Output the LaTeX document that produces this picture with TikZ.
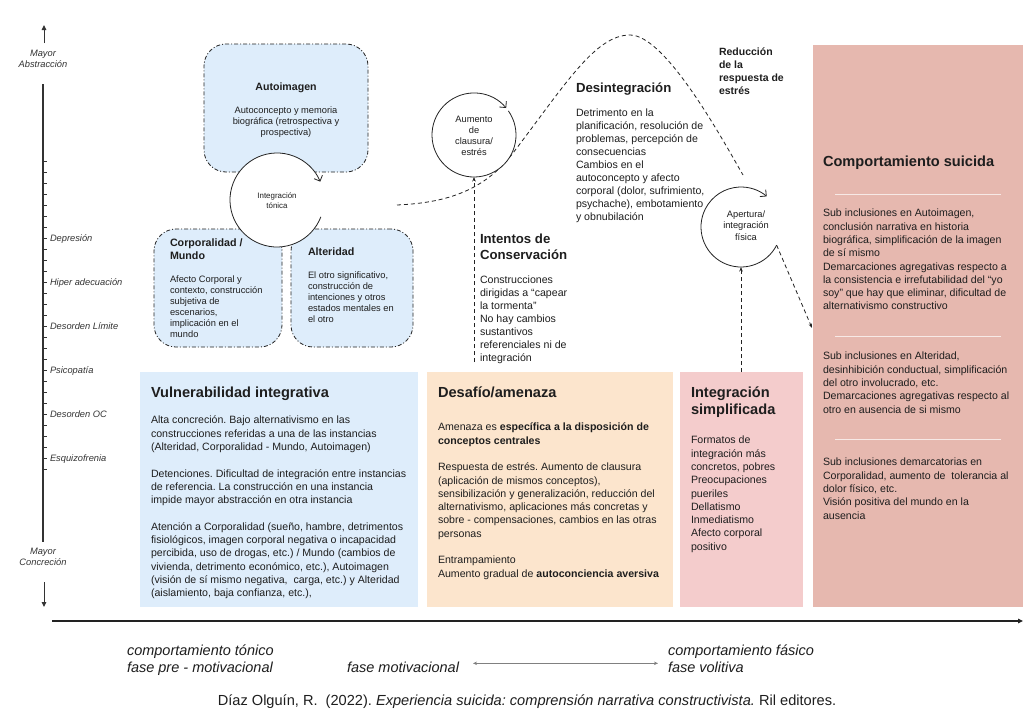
\documentclass[tikz,border=0pt]{standalone}
\usepackage{fontspec}
\setmainfont{Liberation Sans}
\usetikzlibrary{arrows.meta}
\definecolor{textc}{HTML}{1E1E1E}
\definecolor{bluef}{HTML}{DEEDFB}
\definecolor{orangef}{HTML}{FCE5CD}
\definecolor{pinkf}{HTML}{F4CCCC}
\definecolor{redf}{HTML}{E6B8AF}
\definecolor{sepc}{HTML}{F7E9E6}
\definecolor{linec}{HTML}{222222}
\definecolor{axisc}{HTML}{333333}
\definecolor{grayarrow}{HTML}{808080}
\newcommand\myfs[2]{\fontsize{#1}{#2}\selectfont}
\begin{document}
\frenchspacing
\begin{tikzpicture}[x=1pt,y=1pt,
  txt/.style={inner sep=0pt, outer sep=0pt, anchor=north west, align=left, text=textc},
  ctxt/.style={inner sep=0pt, outer sep=0pt, anchor=north, align=center, text=textc},
  axl/.style={txt, text=axisc, font=\myfs{9.3}{11}\itshape},
  caxl/.style={ctxt, text=axisc, font=\myfs{9.3}{11}\itshape},
  topbox/.style={draw=linec, line width=0.8pt, dash pattern=on 4pt off 2pt on 1pt off 2pt, fill=bluef, rounded corners=22pt, inner sep=0pt, outer sep=0pt},
  flatbox/.style={draw=none, inner sep=0pt, outer sep=0pt},
  ring/.style={circle, fill=white, draw=none, inner sep=0pt, outer sep=0pt},
  dashline/.style={draw=linec, line width=0.8pt, dash pattern=on 4pt off 3pt},
  smalltip/.style={-{Stealth[length=4.5pt,width=3.5pt]}},
  barb/.style={draw=linec, line width=0.8pt, -{Straight Barb[length=4.5pt,width=9pt]}},
  boxtitle/.style={txt, font=\myfs{14.6}{17}\bfseries},
  boxbody/.style={txt, font=\myfs{10.6}{13.3}},
  freebody/.style={txt, font=\myfs{10.6}{13}},
  freetitle/.style={txt, font=\myfs{13.2}{16}\bfseries},
  bottomlab/.style={txt, font=\myfs{14.5}{17}\itshape},
  sepline/.style={draw=sepc, line width=0.8pt}
]
\fill[white] (0,0) rectangle (1029,-723);
\useasboundingbox (0,0) rectangle (1029,-723);

% ---------- left vertical axis ----------
\draw[axisc, line width=1.1pt] (43,-84) -- (43,-542);
\foreach \k in {0,...,28} \draw[axisc, line width=0.8pt] (43,{-161-11*\k}) -- (47,{-161-11*\k});
\draw[axisc, line width=1pt, -{Triangle[length=5pt,width=4.5pt]}] (44,-43) -- (44,-25);
\draw[axisc, line width=1pt, -{Triangle[length=5pt,width=4.5pt]}] (44,-582) -- (44,-607);
\node[caxl] (mabs) at (43,-48.65) {\strut Mayor\\Abstracción};
\node[caxl] (mcon) at (43,-546.65) {\strut Mayor\\Concreción};
\node[axl] (l1) at (50,-233.65) {\strut Depresión};
\node[axl] (l2) at (50,-277.65) {\strut Hiper adecuación};
\node[axl] (l3) at (50,-321.65) {\strut Desorden Límite};
\node[axl] (l4) at (50,-365.65) {\strut Psicopatía};
\node[axl] (l5) at (50,-409.65) {\strut Desorden OC};
\node[axl] (l6) at (50,-453.65) {\strut Esquizofrenia};

% ---------- bottom axis ----------
\draw[linec, line width=1.1pt, -{Triangle[length=5pt,width=4.5pt]}] (52,-621) -- (1023,-621);

% ---------- top boxes ----------
\node[topbox, minimum width=164pt, minimum height=128pt] (autoimg) at (286,-108) {};
\node[topbox, minimum width=128pt, minimum height=118pt] (corp) at (218,-288) {};
\node[topbox, minimum width=122pt, minimum height=118pt] (alt) at (352,-288) {};

\node[ctxt, font=\myfs{10.6}{13}\bfseries] (autoT) at (286,-81.72) {\strut Autoimagen};
\node[ctxt, font=\myfs{9.3}{11}] (autoB) at (286,-105.65) {\strut Autoconcepto y memoria\\biográfica (retrospectiva y\\prospectiva)};
\node[txt, font=\myfs{10.7}{13}\bfseries] (corpT) at (170,-237.75) {\strut Corporalidad /\\Mundo};
\node[txt, font=\myfs{9.3}{11}] (corpB) at (170,-274.65) {\strut Afecto Corporal y\\contexto, construcción\\subjetiva de\\escenarios,\\implicación en el\\mundo};
\node[txt, font=\myfs{10.7}{13}\bfseries] (altT) at (308,-246.75) {\strut Alteridad};
\node[txt, font=\myfs{9.3}{11}] (altB) at (308,-270.65) {\strut El otro significativo,\\construcción de\\intenciones y otros\\estados mentales en\\el otro};

% ---------- bottom boxes ----------
\node[flatbox, fill=bluef, minimum width=278pt, minimum height=235pt] (vul) at (279,-489.5) {};
\node[flatbox, fill=orangef, minimum width=246pt, minimum height=235pt] (des) at (550,-489.5) {};
\node[flatbox, fill=pinkf, minimum width=123pt, minimum height=235pt] (sim) at (741.5,-489.5) {};
\node[flatbox, fill=redf, minimum width=210pt, minimum height=562pt] (comp) at (918,-326) {};

\node[boxtitle] (vulT) at (151,-385.36) {\strut Vulnerabilidad integrativa};
\node[boxbody] (vulB) at (151,-414.51) {\strut Alta concreción. Bajo alternativismo en las\\construcciones referidas a una de las instancias\\(Alteridad, Corporalidad - Mundo, Autoimagen)\\[13.3pt]Detenciones. Dificultad de integración entre instancias\\de referencia. La construcción en una instancia\\impide mayor abstracción en otra instancia\\[13.3pt]Atención a Corporalidad (sueño, hambre, detrimentos\\fisiológicos, imagen corporal negativa o incapacidad\\percibida, uso de drogas, etc.) / Mundo (cambios de\\vivienda, detrimento económico, etc.), Autoimagen\\(visión de sí mismo negativa,\ \ carga, etc.) y Alteridad\\(aislamiento, baja confianza, etc.),};

\node[boxtitle] (desT) at (438,-385.36) {\strut Desafío/amenaza};
\node[boxbody] (desB) at (438,-421.51) {\strut Amenaza es \textbf{específica a la disposición de}\\\textbf{conceptos centrales}\\[13.3pt]Respuesta de estrés. Aumento de clausura\\(aplicación de mismos conceptos),\\sensibilización y generalización, reducción del\\alternativismo, aplicaciones más concretas y\\sobre - compensaciones, cambios en las otras\\personas\\[13.3pt]Entrampamiento\\Aumento gradual de \textbf{autoconciencia aversiva}};

\node[boxtitle] (simT) at (691,-385.36) {\strut Integración\\simplificada};
\node[boxbody] (simB) at (691,-434.51) {\strut Formatos de\\integración más\\concretos, pobres\\Preocupaciones\\pueriles\\Dellatismo\\Inmediatismo\\Afecto corporal\\positivo};

\node[boxtitle] (compT) at (823,-154.36) {\strut Comportamiento suicida};
\draw[sepline] (835,-194) -- (1001,-194);
\node[boxbody] (compB1) at (823,-207.51) {\strut Sub inclusiones en Autoimagen,\\conclusión narrativa en historia\\biográfica, simplificación de la imagen\\de sí mismo\\Demarcaciones agregativas respecto a\\la consistencia e irrefutabilidad del “yo\\soy” que hay que eliminar, dificultad de\\alternativismo constructivo};
\draw[sepline] (835,-336) -- (1001,-336);
\node[boxbody] (compB2) at (823,-350.51) {\strut Sub inclusiones en Alteridad,\\desinhibición conductual, simplificación\\del otro involucrado, etc.\\Demarcaciones agregativas respecto al\\otro en ausencia de si mismo};
\draw[sepline] (835,-439) -- (1001,-439);
\node[boxbody] (compB3) at (823,-456.51) {\strut Sub inclusiones demarcatorias en\\Corporalidad, aumento de\ \ tolerancia al\\dolor físico, etc.\\Visión positiva del mundo en la\\ausencia};

% ---------- free texts ----------
\node[freetitle] (intT) at (480,-232.55) {\strut Intentos de\\Conservación};
\node[freebody] (intB) at (480,-274.72) {\strut Construcciones\\dirigidas a “capear\\la tormenta”\\No hay cambios\\sustantivos\\referenciales ni de\\integración};
\node[freetitle] (disT) at (576,-81.55) {\strut Desintegración};
\node[freebody] (disB) at (576,-107.72) {\strut Detrimento en la\\planificación, resolución de\\problemas, percepción de\\consecuencias\\Cambios en el\\autoconcepto y afecto\\corporal (dolor, sufrimiento,\\psychache), embotamiento\\y obnubilación};
\node[txt, font=\myfs{10.5}{13}\bfseries] (red) at (719,-46.68) {\strut Reducción\\de la\\respuesta de\\estrés};

% ---------- dashed curve ----------
\coordinate (c0) at (397,-205);
\coordinate (c1) at (513,-153);
\coordinate (c2) at (630,-35);
\coordinate (c3) at (743,-175);
\draw[dashline] (c0) .. controls (440,-203) and (482,-194) .. (c1)
  .. controls (565,-85) and (595,-35) .. (c2)
  .. controls (665,-35) and (720,-135) .. (c3);

% ---------- circles ----------
\node[ring, minimum size=94pt] (it) at (277,-200) {};
\draw[barb] (it.-21) arc[start angle=-21, end angle=-337, radius=47pt];
\node[ctxt, font=\myfs{7.9}{10}] (itT) at (277,-191.84) {\strut Integración\\tónica};

\node[ring, minimum size=84pt] (au) at (474,-135) {};
\draw[barb] (au.35) arc[start angle=35, end angle=-320, radius=42pt];
\node[ctxt, font=\myfs{9.3}{11}] (auT) at (474,-114.65) {\strut Aumento\\de\\clausura/\\estrés};

\node[ring, minimum size=80pt] (ap) at (741,-227) {};
\draw[barb] (ap.-27) arc[start angle=-27, end angle=-310, radius=40pt];
\node[ctxt, font=\myfs{9.3}{11.5}] (apT) at (746,-209.3) {\strut Apertura/\\integración\\física};

% ---------- dashed arrows ----------
\coordinate (aubot) at (474,-362);
\draw[dashline, smalltip] (aubot) -- (au.south);
\draw[dashline, smalltip] (ap.south |- sim.north) -- (ap.south);
\coordinate (comparr) at (812,-328);
\draw[dashline, smalltip] (ap.-27) -- (comparr);

% ---------- bottom labels ----------
\node[bottomlab] (ct) at (127,-643.32) {\strut comportamiento tónico};
\node[bottomlab] (fp) at (127,-660.32) {\strut fase pre - motivacional};
\node[bottomlab] (fm) at (347,-660.32) {\strut fase motivacional};
\node[bottomlab] (cf) at (668,-643.32) {\strut comportamiento fásico};
\node[bottomlab] (fv) at (668,-660.32) {\strut fase volitiva};
\draw[grayarrow, line width=0.7pt, {Stealth[length=4pt,width=3.5pt]}-{Stealth[length=4pt,width=3.5pt]}] ([xshift=14pt,yshift=5.5pt]fm.east) -- ([xshift=-10pt,yshift=5.5pt]fv.west);

\node[ctxt, font=\myfs{14.6}{17}] (cite) at (527,-693.36) {\strut Díaz Olguín, R.\ \ (2022). \textit{Experiencia suicida: comprensión narrativa constructivista.} Ril editores.};
\end{tikzpicture}
\end{document}
